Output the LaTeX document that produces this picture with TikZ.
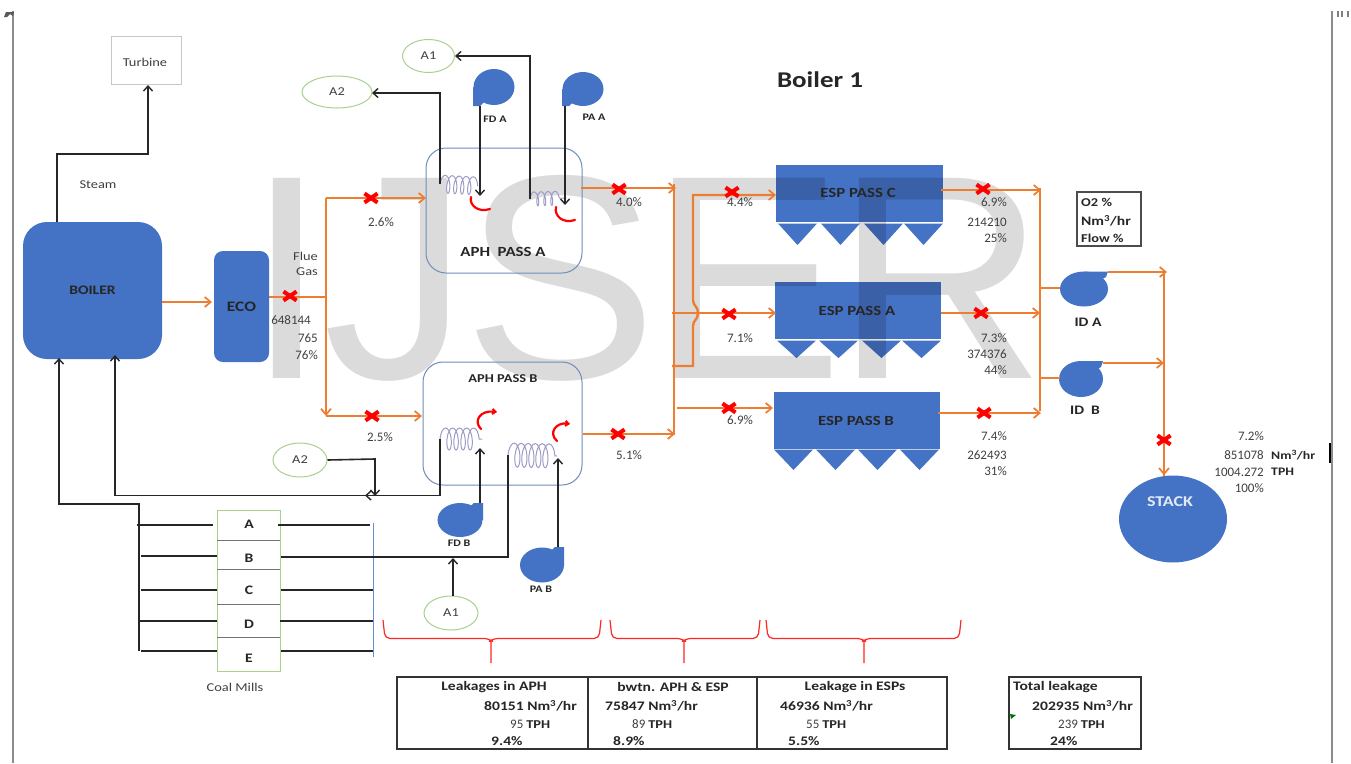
\documentclass[tikz,border=0pt]{standalone}
\usepackage{fontspec}
\setmainfont{Carlito}[FakeStretch=1.2]
\newfontfamily\numf{Carlito}
\newfontfamily\wmfont{Liberation Sans}
\usetikzlibrary{arrows.meta,shapes.geometric,shapes.misc,decorations.pathmorphing,calc}
\definecolor{bl}{HTML}{4472C4}
\definecolor{og}{HTML}{ED7D31}
\definecolor{gn}{HTML}{A9D18E}
\definecolor{txt}{HTML}{404040}
\definecolor{bd}{HTML}{262626}
\definecolor{aphb}{HTML}{6F8DBB}
\definecolor{coilc}{HTML}{9C9CC8}
\tikzset{
 x=1pt,y=-1pt,
 lab/.style={inner sep=0pt,text=txt,font=\fontsize{12}{14}\selectfont},
 num/.style={inner sep=0pt,text=txt,font=\fontsize{13}{15}\selectfont\numf},
 numr/.style={num,anchor=east},
 labr/.style={lab,anchor=east},
 labl/.style={num,anchor=west},
 bold/.style={inner sep=0pt,text=bd,font=\fontsize{13}{15}\selectfont\bfseries},
 boldl/.style={bold,anchor=west},
 wm/.style={inner sep=0pt,anchor=base west,font=\fontsize{291}{291}\selectfont\wmfont,text=black,text opacity=.14},
 bluebox/.style={fill=bl,draw=none,inner sep=0pt},
 aphbox/.style={draw=aphb,line width=1pt,rounded corners=20pt,inner sep=0pt},
 airnode/.style={ellipse,draw=gn,line width=1pt,inner sep=0pt,text=txt,font=\fontsize{12}{14}\selectfont},
 flow/.style={draw=og,line width=2.4pt,-{Straight Barb[length=6pt,width=10pt,line width=1.7pt]}},
 flown/.style={draw=og,line width=2.4pt},
 blk/.style={draw=black!85,line width=1.6pt,-{Straight Barb[length=5pt,width=9pt,line width=1.4pt]}},
 blkn/.style={draw=black!85,line width=1.6pt},
 xmark/.style={cross out,draw=red,line width=4pt,minimum width=9pt,minimum height=5pt,inner sep=0pt},
 coilline/.style={draw=coilc,line width=1pt,decorate,decoration={coil,aspect=.35,segment length=7pt,amplitude=#1}},
 swirl/.style={draw=red,line width=2.2pt,line cap=round},
 brace/.style={draw=red!85!white,line width=1.2pt,rounded corners=5pt},
 box/.style={draw=black!80,line width=1.5pt,inner sep=0pt},
 hopper/.style={fill=bl,draw=none},
}
\newcommand{\fanshape}[5]{% name, cx, cy, rx, ry
 \node[bluebox,ellipse,minimum width=2*#4 pt,minimum height=2*#5 pt] (#1) at (#2,#3) {};}
\newcommand{\esphoppers}[6]{% top, tip, left edges of the four hoppers
 \foreach \hx in {#3,#4,#5,#6}{\fill[hopper] (\hx,#1) -- ++(39,0) -- ($(\hx,#2)+(19.5,0)$) -- cycle;}}
\begin{document}
\begin{tikzpicture}
\useasboundingbox (0,0) rectangle (1351,763);
\fill[white] (0,0) rectangle (1351,763);
% page edges
\draw[black!45,line width=1.4pt] (13,11) -- (13,763);
\draw[black!45,line width=1.4pt] (1332,11) -- (1332,763);
\draw[black,line width=1.6pt] (1330,443) -- (1330,463);
\fill[black!65] (4,17) -- (6,12) -- (14,12) -- (13,16) -- (10,14) -- (7,17) -- cycle;
\foreach \mx in {1338,1342,1348}{\draw[black!50,line width=1.6pt] (\mx,11) -- (\mx,17);}
% blue shapes
\node[bluebox,rounded corners=24pt,minimum width=139pt,minimum height=137pt] (boiler) at (92.5,290.5) {};
\node[bluebox,rounded corners=9pt,minimum width=55pt,minimum height=111pt] (eco) at (241.5,306.5) {};
\node[bluebox,minimum width=167pt,minimum height=57pt] (espc) at (859.5,193.5) {};
\node[bluebox,minimum width=166pt,minimum height=57pt] (espa) at (858,310.5) {};
\node[bluebox,minimum width=166pt,minimum height=57pt] (espb) at (857,420.5) {};
\esphoppers{223.5}{245}{778}{821}{864}{904}
\esphoppers{340.5}{358}{777}{819}{862}{902}
\esphoppers{449.5}{470}{774}{816}{858}{900}
\node[bluebox,ellipse,minimum width=108pt,minimum height=87pt] (stack) at (1173,519) {};
\fanshape{fda}{494}{87}{20.5}{18}
\fill[bl] (473,87) -- (473,106) -- (480,106) -- (490,96) -- cycle;
\fanshape{paa}{583}{89}{20.5}{17}
\fill[bl] (562,89) -- (562,106) -- (569,106) -- (579,97) -- cycle;
\fanshape{fdb}{460}{520}{22.5}{17}
\fill[bl] (483,520) -- (483,503) -- (474,503) -- (464,512) -- cycle;
\fanshape{pab}{542}{565}{22}{17.5}
\fill[bl] (564,565) -- (564,547) -- (555,547) -- (545,556) -- cycle;
\fanshape{ida}{1084}{289}{24}{17.5}
\fill[bl] (1084,271.5) -- (1108,271.5) -- (1106,277) -- (1090,285) -- cycle;
\fanshape{idb}{1081}{379}{22}{18}
\fill[bl] (1081,361) -- (1103,361) -- (1101,367) -- (1086,375) -- cycle;
% watermark
\node[wm] (wmi) at (246,378) {I};
\node[wm] (wmj) at (323,378) {J};
\node[wm] (wms) at (463,378) {S};
\node[wm] (wme) at (649,378) {E};
\node[wm] (wmr) at (835,378) {R};
% plain boxes
\node[draw=black!22,line width=.8pt,minimum width=70pt,minimum height=48pt,inner sep=0pt] (turbine) at (146,60) {};
\node[lab] at (145,62) {Turbine};
\node[aphbox,minimum width=156pt,minimum height=125pt] (apha) at (504,210.5) {};
\node[aphbox,minimum width=159pt,minimum height=123pt] (aphb) at (502.5,423.5) {};
\node[airnode,minimum width=52pt,minimum height=33pt] (a1t) at (428.5,56) {A1\hspace{4pt}};
\node[airnode,minimum width=70pt,minimum height=32pt] (a2t) at (337,92) {A2\hspace{11pt}};
\node[airnode,minimum width=54pt,minimum height=34pt] (a2b) at (300,460) {A2\hspace{4pt}};
\node[airnode,minimum width=54pt,minimum height=34pt] (a1b) at (451,613) {A1\hspace{4pt}};
% coal mills
\node[draw=gn,line width=1pt,minimum width=63pt,minimum height=161pt,inner sep=0pt] (mills) at (248.5,590.5) {};
\foreach \yy in {540,569,604,637}{\draw[black!55,line width=.9pt] (217,\yy) -- (280,\yy);}
\node[bold] (ma) at (249,524) {A};
\node[bold] (mb) at (249,558) {B};
\node[bold] (mc) at (249,590) {C};
\node[bold] (md) at (249,624) {D};
\node[bold] (me) at (249,658) {E};
\coordinate (busr1) at (373.5,523);
\coordinate (busr2) at (373.5,657);
\draw[bl!80,line width=1pt] (busr1) -- (busr2);
% coils
\coordinate (c1a) at (440,184);
\coordinate (c1b) at (478,186);
\coordinate (c2a) at (530,199);
\coordinate (c2b) at (566,198);
\coordinate (c3a) at (440,439);
\coordinate (c3b) at (482,439);
\coordinate (c4a) at (508,455);
\coordinate (c4b) at (557,456);
\draw[coilline=9pt] (c1a) -- (c1b);
\draw[coilline=7pt] (c2a) -- (c2b);
\draw[coilline=11pt] (c3a) -- (c3b);
\draw[coilline=12pt] (c4a) -- (c4b);
% swirls
\draw[swirl] (471,197) .. controls (469,205) and (478,213) .. (490,209);
\draw[swirl] (556,207) .. controls (554,216) and (563,224) .. (575,220);
\draw[swirl,-{Straight Barb[length=3pt,width=5pt]}] (481,429) .. controls (473,421) and (480,410) .. (497,412);
\draw[swirl,-{Straight Barb[length=3pt,width=5pt]}] (557,441) .. controls (548,433) and (556,422) .. (570,424);
% black connectors
\draw[blk] (57,222) -- (57,154) -- (148,154) -- (148,85);
\draw[blk] (c1a) -- (440,93) -- (372,93);
\draw[blk] (c2a) -- (530,56) -- (a1t.east);
\draw[blk] (480,106) -- (480,196);
\draw[blk] (565,106) -- (565,205);
\draw[blk] (480,503) -- (480,448);
\draw[blk] (558,547) -- (558,458);
\draw[blk] (a2b.east) -- (375,459) -- (375,496);
\coordinate (jb) at (365,495.5);
\draw[blk] (c3a) -- (440,495.5) -- (jb);
\draw[blk] (375,495.5) -- (115,495.5) -- (115,355);
\draw[blk] (139,504) -- (59,504) -- (59,358);
\draw[blkn] (139,503) -- (139,651);
\draw[blkn] (c4a) -- (508,557) -- (281,557);
\draw[blk] (a1b.north) ++(2,0) -- (453,558);
\foreach \yy/\xl/\xr in {525/137/213,556/141/217,590/141/217,621/139/217,651/141/217}{\draw[blkn] (\xl,\yy) -- (\xr,\yy);}
\foreach \yy/\xl/\xr in {525/278/370,590/281/373,621/280/373,651/281/373}{\draw[blkn] (\xl,\yy) -- (\xr,\yy);}
% orange connectors
\draw[flow] (boiler.east |- 0,302) -- (212,302);
\draw[flown] (269,297) -- (326,297);
\draw[flow] (326,198) -- (326,416);
\draw[flow] (326,198) -- (426,198);
\draw[flow] (326,416) -- (422,416);
\draw[flow] (581,188) -- (676,188);
\draw[flow] (583,434) -- (675,434);
\draw[flown] (674,184) -- (674,435);
\draw[flown,-{Straight Barb[length=6pt,width=10pt,line width=1.7pt]}] (672,366) -- (693,366) -- (693,326) .. controls (693,320) and (698,320) .. (698,313) .. controls (698,306) and (693,306) .. (693,300) -- (693,195) -- (776,195);
\draw[flow] (672,313) -- (776,313);
\draw[flow] (677,408) -- (773,408);
\draw[flow] (941,190) -- (1041,190);
\draw[flow] (941,313) -- (1040,313);
\draw[flow] (938,413) -- (1041,413);
\draw[flown] (1040,188) -- (1040,411);
\draw[flown] (1040,288) -- (1060,288);
\draw[flown] (1040,378) -- (1060,378);
\draw[flow] (1108,272) -- (1167,272);
\draw[flow] (1103,363) -- (1164,363);
\draw[flown] (1164,272) -- (1164,476);
\draw[flow] (1164,440) -- (stack.north -| 1164,0);
% leak marks
\foreach \n/\xx/\yy in {x1/290/296,x2/371/198,x3/372/416,x4/619/189,x5/618/434,x6/732/192,x7/729/314,x8/729/408,x9/983/189,x10/981/313,x11/984/413,x12/1164/440}{\node[xmark] (\n) at (\xx,\yy) {};}
% braces
\coordinate (bt1) at (491,663);
\coordinate (bt2) at (684,663);
\coordinate (bt3) at (864,663);
\draw[brace] (383,620) -- (385,638.5) -- (489,638.5) -- (491,640) (491,640) -- (bt1) (491,640) -- (493,638.5) -- (599,638.5) -- (601,620);
\draw[brace] (610,620) -- (612,638.5) -- (682,638.5) -- (684,640) (684,640) -- (bt2) (684,640) -- (686,638.5) -- (758,638.5) -- (760,620);
\draw[brace] (766,620) -- (768,638.5) -- (862,638.5) -- (864,640) (864,640) -- (bt3) (864,640) -- (866,638.5) -- (959,638.5) -- (961,620);
% labels on shapes
\node[bold] at (boiler) {BOILER};
\node[bold,font=\fontsize{14.5}{16}\selectfont\bfseries] at (eco) {ECO};
\node[bold,font=\fontsize{14}{16}\selectfont\bfseries] at (858,193) {ESP PASS C};
\node[bold,font=\fontsize{14}{16}\selectfont\bfseries] at (857,311) {ESP PASS A};
\node[bold,font=\fontsize{14}{16}\selectfont\bfseries] at (856,421) {ESP PASS B};
\node[bold,text=white!85!bl,font=\fontsize{15}{16}\selectfont\bfseries] at (1170,502) {STACK};
\node[bold,font=\fontsize{14}{16}\selectfont\bfseries] at (503,252) {APH\ \ PASS A};
\node[bold,font=\fontsize{12}{14}\selectfont\bfseries] at (503,379) {APH PASS B};
\node[bold,font=\fontsize{10}{12}\selectfont\bfseries] at (495,119) {FD A};
\node[bold,font=\fontsize{10}{12}\selectfont\bfseries] at (594,117) {PA A};
\node[bold,font=\fontsize{10}{12}\selectfont\bfseries] at (459,543) {FD B};
\node[bold,font=\fontsize{10}{12}\selectfont\bfseries] at (541,589) {PA B};
\node[bold] at (1088,322) {ID A};
\node[bold] at (1085,410) {ID\ \ B};
\node[lab] at (98,185) {Steam};
\node[labr] at (318,256) {Flue};
\node[labr] at (318,272) {Gas};
\node[numr] at (311,320) {648144};
\node[numr] at (318,338) {765};
\node[numr] at (318,355) {76\%};
\node[num] at (381,222) {2.6\%};
\node[num] at (380,437) {2.5\%};
\node[num] at (629,202) {4.0\%};
\node[num] at (629,455) {5.1\%};
\node[num] at (740,202) {4.4\%};
\node[num] at (740,338) {7.1\%};
\node[num] at (740,420) {6.9\%};
\foreach \tt/\yy in {6.9\%/202,214210/222,25\%/238,7.3\%/338,374376/354,44\%/370,7.4\%/436,262493/455,31\%/471}{\node[numr] at (1007,\yy) {\tt};}
\node[lab] at (235,687) {Coal Mills};
\node[bold,font=\fontsize{22.5}{26}\selectfont\bfseries] at (820,80) {Boiler 1};
% legend
\node[box,draw=black!70,minimum width=64pt,minimum height=54pt] (legend) at (1109,219) {};
\node[boldl,font=\fontsize{12}{14}\selectfont\bfseries] at (1081,202) {O2 \%};
\node[boldl] at (1081,221) {Nm\textsuperscript{3}/hr};
\node[boldl,font=\fontsize{12}{14}\selectfont\bfseries] at (1081,238) {Flow \%};
% stack figures
\node[numr] at (1264,436) {7.2\%};
\node[numr] at (1264,455) {851078};
\node[boldl,font=\fontsize{11.5}{14}\selectfont\bfseries] at (1271,455) {Nm\textsuperscript{3}/hr};
\node[numr] at (1264,472) {1004.272};
\node[boldl,font=\fontsize{11.5}{14}\selectfont\bfseries] at (1271,472) {TPH};
\node[numr] at (1264,488) {100\%};
% table
\node[box,minimum width=550pt,minimum height=72pt] (tab) at (672,713) {};
\draw[black!80,line width=1.5pt] (588,677) -- (588,749);
\draw[black!80,line width=1.5pt] (757,677) -- (757,749);
\node[box,minimum width=132pt,minimum height=72pt] (tot) at (1075,713) {};
\node[bold] at (494,687) {Leakages in APH};
\node[bold] at (673,687) {bwtn. APH \& ESP};
\node[bold] at (855,687) {Leakage in ESPs};
\node[boldl] at (1013,687) {Total leakage};
\node[boldl] at (484,706) {80151 Nm\textsuperscript{3}/hr};
\node[boldl] at (605,706) {75847 Nm\textsuperscript{3}/hr};
\node[boldl] at (780,706) {46936 Nm\textsuperscript{3}/hr};
\node[boldl] at (1032,706) {202935 Nm\textsuperscript{3}/hr};
\node[labl] at (510,724) {95 \textcolor{bd}{\rmfamily\bfseries\fontsize{12}{14}\selectfont TPH}};
\node[labl] at (632,724) {89 \textcolor{bd}{\rmfamily\bfseries\fontsize{12}{14}\selectfont TPH}};
\node[labl] at (806,724) {55 \textcolor{bd}{\rmfamily\bfseries\fontsize{12}{14}\selectfont TPH}};
\node[labl] at (1058,724) {239 \textcolor{bd}{\rmfamily\bfseries\fontsize{12}{14}\selectfont TPH}};
\node[boldl] at (491,741) {9.4\%};
\node[boldl] at (613,741) {8.9\%};
\node[boldl] at (788,741) {5.5\%};
\node[boldl] at (1050,741) {24\%};
\fill[green!45!black] (1010,714) -- (1016,715) -- (1011,719) -- cycle;
\end{tikzpicture}
\end{document}
